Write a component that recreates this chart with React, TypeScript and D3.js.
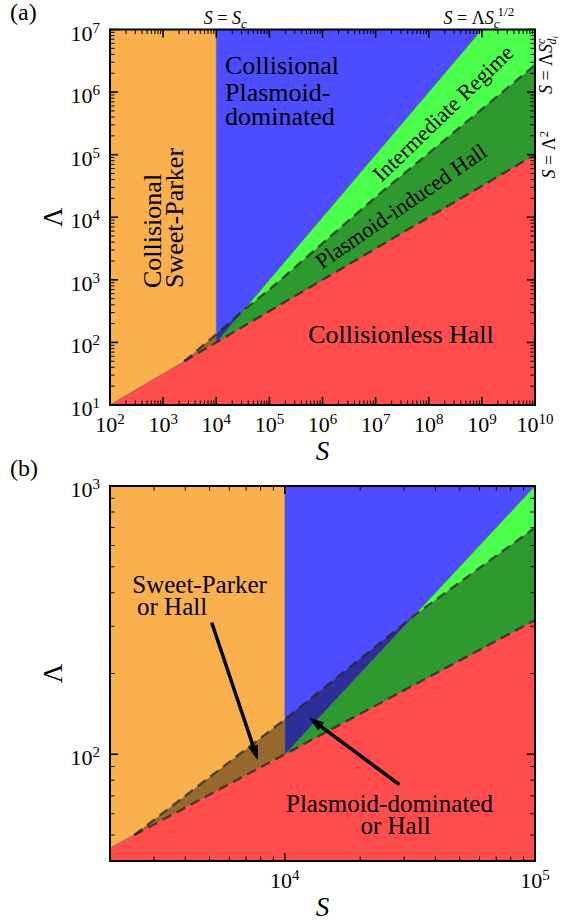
import React from "react";
import * as d3 from "d3";

// Boundaries of the regimes as (S, Lambda) pairs
const criticalS = 1e4; // S = S_c
const hallLineS = [1e2, 1e10]; // S = Lambda^2
const hallLineL = [1e1, 1e5];
const plasmoidLineS = [1e4, 1e10]; // S = Lambda S_c^{1/2}
const plasmoidLineL = [1e2, 1e8];
const diLineS = [2.5e3, 1e4, 3.3e4, 1e5, 1e7, 1e10]; // S = Lambda S^c_{d_i}
const diLineL = [50, 135, 330, 700, 2.1e4, 2.7e6];

// axes
const xDomainA = [1e2, 1e10];
const yDomainA = [1e1, 1e7];
const xDomainB = [2e3, 1e5];
const yDomainB = [40, 1e3];
const xExpsA = [2, 3, 4, 5, 6, 7, 8, 9, 10];
const yExpsA = [1, 2, 3, 4, 5, 6, 7];
const xExpsB = [4, 5];
const yExpsB = [2, 3];

const FONT = "'Liberation Serif', 'Times New Roman', serif";
const ORANGE = "#fbb04e";
const BLUE = "#4d4dff";
const LIME = "#4dff4d";
const RED = "#ff4d4d";

type Pt = [number, number];

function logTicks(domain: number[]) {
  const out: { v: number; major: boolean }[] = [];
  const k0 = Math.floor(Math.log10(domain[0]));
  const k1 = Math.ceil(Math.log10(domain[1]));
  for (let k = k0; k <= k1; k++) {
    for (let m = 1; m < 10; m++) {
      const v = m * Math.pow(10, k);
      if (v >= domain[0] * 0.999 && v <= domain[1] * 1.001) out.push({ v, major: m === 1 });
    }
  }
  return out;
}

function Panel(props: {
  id: string;
  left: number;
  right: number;
  top: number;
  bottom: number;
  xDomain: number[];
  yDomain: number[];
  xExps: number[];
  yExps: number[];
  tag: string;
  extra: (x: d3.ScaleLogarithmic<number, number>, y: d3.ScaleLogarithmic<number, number>) => React.ReactNode;
}) {
  const { id, left, right, top, bottom, xDomain, yDomain, xExps, yExps, tag, extra } = props;
  const x = d3.scaleLog().domain(xDomain).range([left, right]);
  const y = d3.scaleLog().domain(yDomain).range([bottom, top]);
  const pts = (S: number[], L: number[]): Pt[] => S.map((s, i) => [x(s), y(L[i])] as Pt);
  const line = d3.line();
  const poly = (p: Pt[]) => (line(p) || "") + "Z";

  const hall = pts(hallLineS, hallLineL);
  const plasmoid = pts(plasmoidLineS, plasmoidLineL);
  const di = pts(diLineS, diLineL);

  const greenPoly = poly([...plasmoid, hall[1]]);
  const redPoly = poly([...hall, [hall[1][0], bottom + 60], [hall[0][0], bottom + 60]]);
  const bandPoly = poly([...di, hall[1]]);

  const xt = logTicks(xDomain);
  const yt = logTicks(yDomain);
  const maj = 8, mnr = 4.5;
  const dash = { stroke: "#222", strokeOpacity: 0.7, strokeWidth: 2.4, strokeDasharray: "10 6", fill: "none" };

  return (
    <g fontFamily={FONT}>
      <defs>
        <clipPath id={id}>
          <rect x={left} y={top} width={right - left} height={bottom - top} />
        </clipPath>
      </defs>
      <g clipPath={`url(#${id})`}>
        <rect x={left} y={top} width={x(criticalS) - left} height={bottom - top} fill={ORANGE} />
        <rect x={x(criticalS)} y={top} width={right - x(criticalS)} height={bottom - top} fill={BLUE} />
        <path d={greenPoly} fill={LIME} />
        <path d={redPoly} fill={RED} />
        <path d={bandPoly} fill="#000" fillOpacity={0.4} />
        {/* thin region edges */}
        <line x1={x(criticalS)} x2={x(criticalS)} y1={y(1e2)} y2={top} stroke="#666" strokeOpacity={0.6} strokeWidth={1} />
        <path d={line(plasmoid) || ""} stroke="#666" strokeOpacity={0.5} strokeWidth={1} fill="none" />
        <path d={line([hall[0], di[0]]) || ""} stroke="#666" strokeOpacity={0.6} strokeWidth={1} fill="none" />
        {/* dashed boundaries */}
        <path d={line(di) || ""} {...dash} />
        <path d={line([di[0], hall[1]]) || ""} {...dash} />
      </g>
      {/* ticks */}
      {xt.map((t, i) => (
        <g key={"x" + i} stroke="#000" strokeWidth={t.major ? 1.6 : 1}>
          <line x1={x(t.v)} x2={x(t.v)} y1={bottom} y2={bottom - (t.major ? maj : mnr)} />
          <line x1={x(t.v)} x2={x(t.v)} y1={top} y2={top + (t.major ? maj : mnr)} />
        </g>
      ))}
      {yt.map((t, i) => (
        <g key={"y" + i} stroke="#000" strokeWidth={t.major ? 1.6 : 1}>
          <line x1={left} x2={left + (t.major ? maj : mnr)} y1={y(t.v)} y2={y(t.v)} />
          <line x1={right} x2={right - (t.major ? maj : mnr)} y1={y(t.v)} y2={y(t.v)} />
        </g>
      ))}
      <rect x={left} y={top} width={right - left} height={bottom - top} fill="none" stroke="#000" strokeWidth={2} />
      {/* tick labels */}
      {xExps.map((e) => (
        <text key={"xl" + e} x={x(Math.pow(10, e))} y={bottom + 27} textAnchor="middle" fontSize={22}>
          10<tspan dy={-8} fontSize={15}>{e}</tspan>
        </text>
      ))}
      {yExps.map((e) => (
        <text key={"yl" + e} x={left - 10} y={y(Math.pow(10, e)) + 11} textAnchor="end" fontSize={22}>
          10<tspan dy={-8} fontSize={15}>{e}</tspan>
        </text>
      ))}
      {/* axis titles */}
      <text x={(left + right) / 2} y={bottom + 55} textAnchor="middle" fontSize={27} fontStyle="italic">S</text>
      <text transform={`translate(62,${(top + bottom) / 2}) rotate(-90)`} textAnchor="middle" fontSize={27}>Λ</text>
      <text x={10} y={top - 10} fontSize={24}>{tag}</text>
      {extra(x, y)}
    </g>
  );
}

function Arrow({ from, to }: { from: Pt; to: Pt }) {
  const dx = to[0] - from[0], dy = to[1] - from[1];
  const len = Math.hypot(dx, dy);
  const ux = dx / len, uy = dy / len;
  const hl = 15, hw = 5;
  const bx = to[0] - ux * hl, by = to[1] - uy * hl;
  const head: Pt[] = [to, [bx - uy * hw, by + ux * hw], [bx + uy * hw, by - ux * hw]];
  return (
    <g>
      <line x1={from[0]} y1={from[1]} x2={bx + ux * 2} y2={by + uy * 2} stroke="#000" strokeWidth={3.5} />
      <path d={"M" + head.map((p) => p.join(",")).join("L") + "Z"} fill="#000" />
    </g>
  );
}

export default function App() {
  return (
    <svg width={563} height={921} style={{ position: "absolute", left: 0, top: 0, background: "#fff" }}>
      <Panel
        id="clipA"
        left={110}
        right={535}
        top={29.5}
        bottom={405}
        xDomain={xDomainA}
        yDomain={yDomainA}
        xExps={xExpsA}
        yExps={yExpsA}
        tag="(a)"
        extra={(x, y) => (
          <g>
            <text x={x(1.46e4)} y={y(1.94e6)} fontSize={26}>Collisional</text>
            <text x={x(1.46e4)} y={y(7.2e5)} fontSize={26}>Plasmoid-</text>
            <text x={x(1.46e4)} y={y(2.98e5)} fontSize={26}>dominated</text>
            <text transform={`translate(${x(912)},${y(740)}) rotate(-90)`} fontSize={26}>Collisional</text>
            <text transform={`translate(${x(2366)},${y(740)}) rotate(-90)`} fontSize={26}>Sweet-Parker</text>
            <text x={x(3e7)} y={y(99)} textAnchor="middle" fontSize={26}>Collisionless Hall</text>
            <text transform={`translate(${x(1.85e8)},${y(4.6e5)}) rotate(-44)`} textAnchor="middle" dominantBaseline="central" fontSize={22}>Intermediate Regime</text>
            <text transform={`translate(${x(3e7)},${y(1.5e4)}) rotate(-34.5)`} textAnchor="middle" dominantBaseline="central" fontSize={22}>Plasmoid-induced Hall</text>
            {/* boundary names */}
            <text x={x(criticalS) + 9} y={24} textAnchor="middle" fontSize={18}>
              <tspan fontStyle="italic">S</tspan>{" = "}<tspan fontStyle="italic">S</tspan>
              <tspan fontStyle="italic" fontSize={13} dy={4}>c</tspan>
            </text>
            <text x={x(1e9) - 3} y={24} textAnchor="middle" fontSize={18}>
              <tspan fontStyle="italic">S</tspan>{" = Λ"}<tspan fontStyle="italic">S</tspan>
              <tspan fontStyle="italic" fontSize={13} dy={4}>c</tspan>
              <tspan fontSize={13} dx={-2} dy={-12}>1/2</tspan>
            </text>
            <text transform={`translate(552,${y(diLineL[diLineL.length - 1])}) rotate(-90)`} textAnchor="middle" fontSize={18}>
              <tspan fontStyle="italic">S</tspan>{" = Λ"}<tspan fontStyle="italic">S</tspan>
              <tspan fontStyle="italic" fontSize={12} dy={-7}>c</tspan>
              <tspan fontStyle="italic" fontSize={12} dx={-6} dy={11}>d</tspan>
              <tspan fontStyle="italic" fontSize={9} dy={2}>i</tspan>
            </text>
            <text transform={`translate(555,${y(hallLineL[1])}) rotate(-90)`} textAnchor="middle" fontSize={18}>
              <tspan fontStyle="italic">S</tspan>{" = Λ"}
              <tspan fontSize={13} dy={-7}>2</tspan>
            </text>
          </g>
        )}
      />
      <Panel
        id="clipB"
        left={110}
        right={535}
        top={486}
        bottom={861}
        xDomain={xDomainB}
        yDomain={yDomainB}
        xExps={xExpsB}
        yExps={yExpsB}
        tag="(b)"
        extra={(x, y) => (
          <g>
            <text x={x(2455)} y={y(400)} fontSize={25}>Sweet-Parker</text>
            <text x={x(2565)} y={y(331)} fontSize={25}>or Hall</text>
            <text x={x(2.62e4)} y={y(60.7)} textAnchor="middle" fontSize={25}>Plasmoid-dominated</text>
            <text x={x(2.77e4)} y={y(50.3)} textAnchor="middle" fontSize={25}>or Hall</text>
            <Arrow from={[x(5.1e3), y(310)]} to={[x(7.8e3), y(95)]} />
            <Arrow from={[x(2.87e4), y(77)]} to={[x(1.25e4), y(137)]} />
          </g>
        )}
      />
    </svg>
  );
}
